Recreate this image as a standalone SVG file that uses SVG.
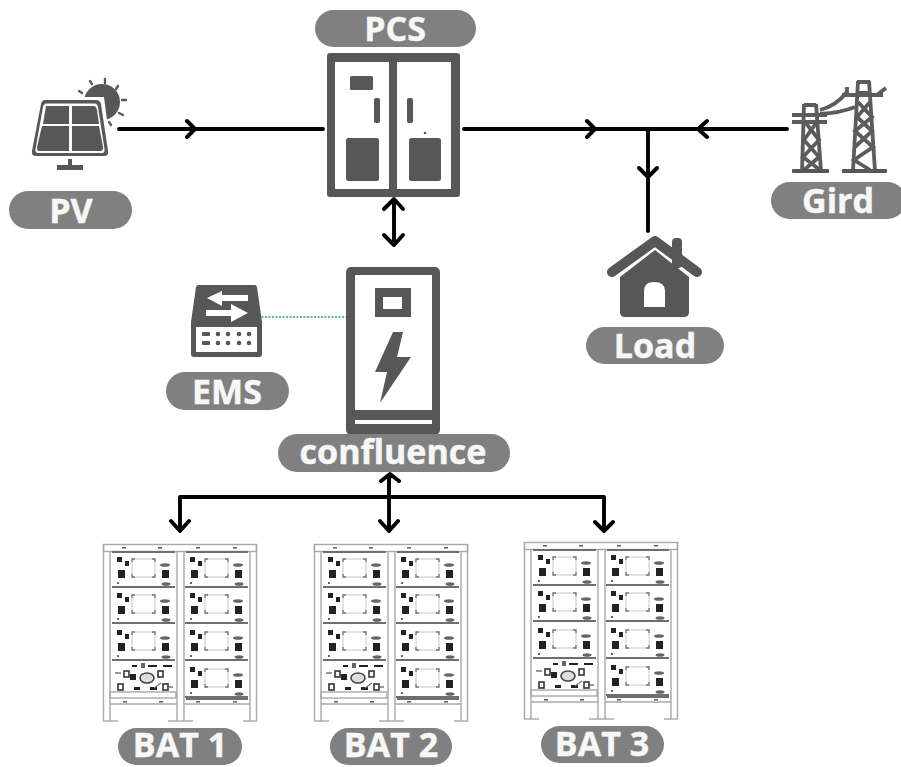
<svg xmlns="http://www.w3.org/2000/svg" width="901" height="767" viewBox="0 0 901 767">
<style>
.pill{fill:#808080}
.lbl{font-family:"Open Sans","Liberation Sans",sans-serif;font-weight:700;font-size:34px;fill:#f7f7f7;stroke:#f7f7f7;stroke-width:0.5;text-anchor:middle}
.ic{fill:#575757}
.w{fill:#fff}
.line{fill:none;stroke:#000;stroke-width:3.9;stroke-linecap:round;stroke-linejoin:round}
.tw{fill:none;stroke:#5c5c5c;stroke-width:3.8}
.ray{fill:none;stroke:#595959;stroke-width:2.4;stroke-linecap:round}
.fr{fill:none;stroke:#a8a8a8;stroke-width:1.4}
.mb{fill:none;stroke:#6e6e6e;stroke-width:2}
.br{fill:none;stroke:#777;stroke-width:1.3}
.sq{fill:#fff;stroke:#333;stroke-width:1.6}
.d{fill:#222}
.m{fill:#666}
</style>
<defs>
<filter id="soft" x="-5%" y="-5%" width="110%" height="110%"><feGaussianBlur stdDeviation="0.55"/></filter>
<g id="module">
<line class="mb" x1="0" y1="35" x2="63" y2="35"/>
<rect class="d" x="5" y="5" width="5" height="5"/>
<rect class="d" x="13" y="9" width="4" height="5"/>
<rect class="d" x="6" y="18" width="7" height="8"/>
<rect x="20" y="7" width="23" height="18" fill="none" stroke="#c8c8c8" stroke-width="1"/>
<path class="br" d="M20 10V7H23M40 7H43V10M43 22V25H40M23 25H20V22"/>
<rect class="d" x="50" y="18" width="7" height="8"/>
<ellipse class="m" cx="53" cy="13" rx="5" ry="1.8"/>
<ellipse class="m" cx="54" cy="32" rx="4.5" ry="1.8"/>
<rect class="m" x="5" y="30" width="2" height="2"/>
</g>
<g id="rack" filter="url(#soft)">
<rect class="fr" x="0.5" y="0.5" width="153" height="7"/>
<rect class="m" x="19" y="3" width="4" height="1.6"/><rect class="m" x="55" y="3" width="4" height="1.6"/><rect class="m" x="93" y="3" width="4" height="1.6"/><rect class="m" x="130" y="3" width="4" height="1.6"/>
<line class="fr" x1="0.5" y1="0" x2="0.5" y2="177"/>
<line class="fr" x1="153.5" y1="0" x2="153.5" y2="177"/>
<line class="fr" x1="7" y1="7" x2="7" y2="177"/>
<line class="fr" x1="147" y1="7" x2="147" y2="177"/>
<line class="fr" x1="74" y1="7" x2="74" y2="177"/>
<line class="fr" x1="81" y1="7" x2="81" y2="177"/>
<line class="fr" x1="0" y1="177" x2="15" y2="177"/>
<line class="fr" x1="65" y1="177" x2="90" y2="177"/>
<line class="fr" x1="140" y1="177" x2="154" y2="177"/>
<line class="mb" x1="9" y1="8" x2="72" y2="8"/>
<line class="mb" x1="83" y1="8" x2="145" y2="8"/>
<use href="#module" x="9" y="8"/>
<use href="#module" x="82" y="8"/>
<use href="#module" x="9" y="44"/>
<use href="#module" x="82" y="44"/>
<use href="#module" x="9" y="81"/>
<use href="#module" x="82" y="81"/>
<use href="#module" x="82" y="118"/>
<rect class="d" x="29" y="121" width="5" height="2"/><rect class="d" x="45" y="121" width="9" height="2"/><rect class="d" x="60" y="121" width="9" height="2"/>
<rect class="m" x="38" y="119" width="4" height="5"/>
<rect class="sq" x="21" y="127" width="5" height="6"/>
<rect class="d" x="27" y="130" width="6" height="6"/>
<ellipse cx="44" cy="134" rx="7" ry="5" fill="#ddd" stroke="#444" stroke-width="1.6"/>
<rect class="sq" x="55" y="127" width="5" height="6"/>
<rect class="sq" x="15" y="140" width="5" height="6"/>
<rect class="d" x="31" y="143" width="6" height="3"/><rect class="d" x="47" y="143" width="7" height="3"/>
<rect class="sq" x="60" y="140" width="5" height="6"/>
<path class="br" d="M66 143H70M12 129H18M51 144L58 139"/>
<rect class="fr" x="7" y="148" width="66" height="6"/>
<line class="fr" x1="7" y1="160" x2="74" y2="160"/>
<rect class="m" x="20" y="157" width="4" height="1.6"/><rect class="m" x="56" y="157" width="4" height="1.6"/>
<line class="mb" x1="83" y1="155" x2="145" y2="155"/>
<line class="fr" x1="81" y1="160" x2="147" y2="160"/>
<rect class="m" x="93" y="157" width="4" height="1.6"/><rect class="m" x="130" y="157" width="4" height="1.6"/>
</g>
</defs>

<g id="connectors">
<path class="line" d="M119 129H323M187 121L195 129L187 137"/>
<path class="line" d="M464 129H787M587 121L595 129L587 137M707 121L698 129L707 137M648 129V231M639 168L648 177L657 168"/>
<path class="line" d="M394 199V245M384 209L394 199L403 209M384 235L394 245L403 235"/>
<line x1="258" y1="317" x2="346" y2="317" stroke="#1f9f70" stroke-width="1.5" stroke-dasharray="2 1.5"/>
<path class="line" d="M180 530V497H604V531M171 521L180 531L189 521M389 475V531M380 521L389 531L398 521M381 481L390 474L399 481M595 522L604 531L613 522"/>
</g>

<g id="pv">
<g class="ray"><path d="M90 81l2 3M105 79v4M118 86l-2 3M126 100h-4M123 115l-4-2M111 125l-2-3M79 91l3 2"/></g>
<circle class="ic" cx="102" cy="102" r="18"/>
<path class="w" d="M40 97H104L112 160H28Z"/>
<path class="ic" d="M45 100H96Q100 100 101 104L108 151Q109 156 104 156H36Q31 156 32 151L41 104Q42 100 45 100Z"/>
<path class="w" d="M46 103.500H95Q97 103.500 98 107L104.500 149Q105 153 102 153H38Q35 153 35.500 149L43 107Q44 103.500 46 103.500Z"/>
<path class="ic" d="M46 106H69V124H43ZM72 106H94Q96 106 97 110L99 124H72ZM42 126H69V151H39Q37 151 37 147ZM72 126H99L103 147Q103 151 101 151H72Z"/>
<path class="ic" d="M68 159H72V165H83V170H57V165H68Z"/>
<rect class="pill" x="9" y="191" width="123" height="38" rx="19"/>
<text class="lbl" x="71" y="223">PV</text>
</g>

<g id="pcs">
<rect class="pill" x="315" y="10" width="161" height="37" rx="18.5"/>
<text class="lbl" x="395" y="41">PCS</text>
<rect class="ic" x="327" y="53" width="133" height="144" rx="3"/>
<rect class="w" x="335" y="62" width="54" height="127"/>
<rect class="w" x="397" y="62" width="54" height="127"/>
<rect class="ic" x="350" y="76" width="23" height="14" rx="1.5"/>
<rect class="ic" x="374" y="98" width="6" height="25" rx="2"/>
<rect class="ic" x="407" y="98" width="6" height="25" rx="2"/>
<rect class="ic" x="346" y="138" width="33" height="43" rx="2.5"/>
<rect class="ic" x="409" y="138" width="32" height="43" rx="2.5"/>
<circle class="ic" cx="425" cy="133" r="1.3"/>
</g>

<g id="grid">
<g class="tw">
<path d="M804 104L802 171M816 104L821 171M804 105H816"/>
<path d="M805 122L819 140L803 157L820 170M817 122L804 140L819 157L804 170"/>
<path d="M858 81L853 171M869 81L875 171M857 82H870M857 93H870"/>
<path d="M858 102L872 117L855 131L873 147L854 160L870 170"/>
<path d="M870 102L857 117L872 131L855 147"/>
<path d="M792 115H827M792 122H827"/>
<path d="M842 95H883M878 94L886 88M847 94V87"/>
<path d="M820 110Q836 106 847 92M820 114Q840 113 855 107"/>
</g>
<rect class="ic" x="792" y="169" width="37" height="4" rx="1"/>
<rect class="ic" x="842" y="169" width="45" height="4" rx="1"/>
<rect class="pill" x="771" y="182" width="135" height="37" rx="18.5"/>
<text class="lbl" x="838" y="213">Gird</text>
</g>

<g id="load">
<rect class="ic" x="672" y="238" width="10" height="30" rx="4"/>
<path d="M612 272L655 241L697 272" fill="none" stroke="#575757" stroke-width="10" stroke-linecap="round" stroke-linejoin="round"/>
<path class="ic" d="M655 250L689 277V312Q689 317 684 317H625Q620 317 620 312V277Z"/>
<path class="w" d="M644 307V291Q644 282 654 282Q665 282 665 291V307Z"/>
<rect class="pill" x="586" y="327" width="138" height="37" rx="18.5"/>
<text class="lbl" x="655" y="358">Load</text>
</g>

<g id="ems">
<path class="ic" d="M198 285H255Q256 285 257 287L262 322V354Q262 357 259 357H194Q191 357 191 354V322L196 287Q197 285 198 285Z"/>
<rect class="w" x="196" y="327" width="61" height="25"/>
<path class="w" d="M207 298L222 291V295H248V301H222V306ZM206 310H231V304L248 313L231 322V316H206Z"/>
<g class="ic"><rect x="202" y="332" width="8" height="4" rx="1"/><rect x="202" y="341" width="8" height="4" rx="1"/>
<circle cx="218" cy="334" r="2.3"/><circle cx="228" cy="334" r="2.3"/><circle cx="239" cy="334" r="2.3"/><circle cx="249" cy="334" r="2.3"/>
<circle cx="218" cy="343" r="2.3"/><circle cx="228" cy="343" r="2.3"/><circle cx="239" cy="343" r="2.3"/><circle cx="249" cy="343" r="2.3"/></g>
<rect class="pill" x="166" y="372" width="123" height="38" rx="19"/>
<text class="lbl" x="227" y="404">EMS</text>
</g>

<g id="confluence">
<rect class="ic" x="346" y="267" width="94" height="168" rx="5"/>
<rect class="w" x="355" y="275" width="77" height="135"/>
<rect class="ic" x="375" y="288" width="36" height="29"/>
<rect class="w" x="383" y="297" width="19" height="12"/>
<path class="ic" d="M393 332H403L397 357H411L380 403L387 372H375Z"/>
<rect class="w" x="355" y="420" width="77" height="4"/>
<rect class="pill" x="278" y="434" width="232" height="38" rx="19"/>
<text class="lbl" x="393" y="464">confluence</text>
</g>

<g id="bat1">
<use href="#rack" x="103" y="544"/>
<rect class="pill" x="118" y="728" width="124" height="37" rx="18.5"/>
<text class="lbl" x="180" y="757">BAT 1</text>
</g>
<g id="bat2">
<use href="#rack" x="314" y="544"/>
<rect class="pill" x="330" y="728" width="122" height="37" rx="18.5"/>
<text class="lbl" x="391" y="757">BAT 2</text>
</g>
<g id="bat3">
<use href="#rack" x="524" y="542"/>
<rect class="pill" x="541" y="726" width="123" height="37" rx="18.5"/>
<text class="lbl" x="602" y="756">BAT 3</text>
</g>
</svg>
